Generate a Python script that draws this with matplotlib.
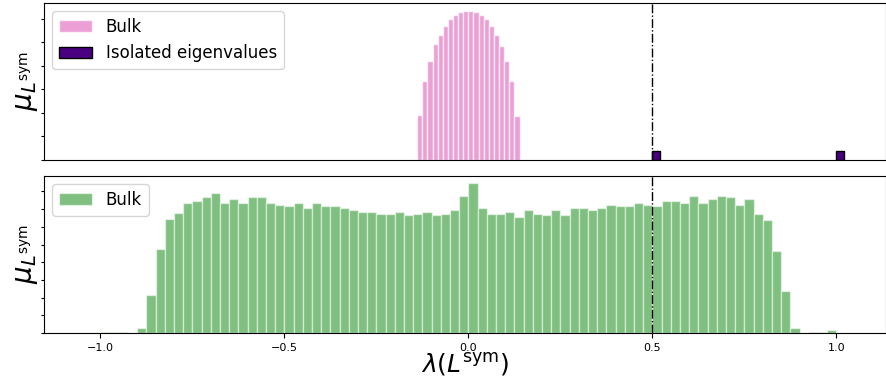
import numpy as np
import matplotlib
matplotlib.use("Agg")
import matplotlib.pyplot as plt
from matplotlib.ticker import MultipleLocator

# top panel: bulk of the spectrum (20 bins, heights in tick units)
bulk_top_edges = np.linspace(-0.139, 0.139, 21)
bulk_top_heights = [1.93, 3.36, 4.20, 4.91, 5.30, 5.69, 5.97, 6.17, 6.27, 6.34,
                    6.34, 6.29, 6.14, 5.96, 5.70, 5.30, 4.84, 4.21, 3.36, 1.86]

# isolated eigenvalues
isolated_vals = [0.5, 1.0]
isolated_heights = [0.39, 0.39]

# bottom panel: bulk, 80 bins on [-1, 1]
bulk_bot_edges = np.linspace(-1.0, 1.0, 81)
bulk_bot_heights = [
    0.06, 0.06, 0.06, 0.0, 0.28, 2.17, 4.77, 6.47, 6.77, 7.36,
    7.45, 7.66, 7.94, 7.36, 7.55, 7.36, 7.66, 7.66, 7.36, 7.26,
    7.15, 7.36, 7.06, 7.36, 7.15, 7.15, 7.06, 6.96, 6.85, 6.85,
    6.75, 6.75, 6.85, 6.66, 6.75, 6.85, 6.66, 6.75, 6.96, 7.75,
    8.45, 7.06, 6.75, 6.75, 6.85, 6.55, 6.96, 6.75, 6.66, 6.96,
    6.66, 7.06, 7.06, 6.96, 7.06, 7.26, 7.15, 7.15, 7.36, 7.26,
    7.15, 7.45, 7.45, 7.36, 7.75, 7.36, 7.55, 7.75, 7.66, 7.26,
    7.55, 6.75, 6.36, 4.66, 2.38, 0.28, 0.0, 0.06, 0.06, 0.17]

threshold = 0.5

fig = plt.figure(figsize=(8.87, 3.81), dpi=100)
ax1 = fig.add_axes([0.0496, 0.580, 0.9494, 0.412])
ax2 = fig.add_axes([0.0496, 0.126, 0.9494, 0.412], sharex=ax1)

centers_top = (bulk_top_edges[:-1] + bulk_top_edges[1:]) / 2
ax1.hist(centers_top, bins=bulk_top_edges, weights=bulk_top_heights,
         color="tab:pink", alpha=0.7, edgecolor="white", linewidth=1, label="Bulk")
ax1.bar(isolated_vals, isolated_heights, width=0.02, align="edge",
        color="indigo", edgecolor="black", linewidth=1, label="Isolated eigenvalues")
ax1.axvline(threshold, color="black", linestyle="-.", linewidth=1)
ax1.legend(loc="upper left", fontsize=12)

centers_bot = (bulk_bot_edges[:-1] + bulk_bot_edges[1:]) / 2
ax2.hist(centers_bot, bins=bulk_bot_edges, weights=bulk_bot_heights,
         color="green", alpha=0.5, edgecolor="white", linewidth=1, label="Bulk")
ax2.axvline(threshold, color="black", linestyle="-.", linewidth=1)
ax2.legend(loc="upper left", fontsize=12)

ax1.set_xlim(-1.153, 1.135)
for ax in (ax1, ax2):
    ax.yaxis.set_major_locator(MultipleLocator(1))
    ax.set_yticklabels([])
    ax.tick_params(axis="y", length=2.5)
    ax.set_ylabel(r"$\mu_{L^{\rm sym}}$", fontsize=20, labelpad=-3)

ax1.tick_params(axis="x", bottom=False, labelbottom=False)
ax2.set_xticks([-1.0, -0.5, 0.0, 0.5, 1.0])
ax2.tick_params(axis="x", labelsize=8, length=3.5)
ax2.set_xlabel(r"$\lambda(L^{\rm sym})$", fontsize=18, labelpad=-1)

fig.savefig("out.png", dpi=100)
